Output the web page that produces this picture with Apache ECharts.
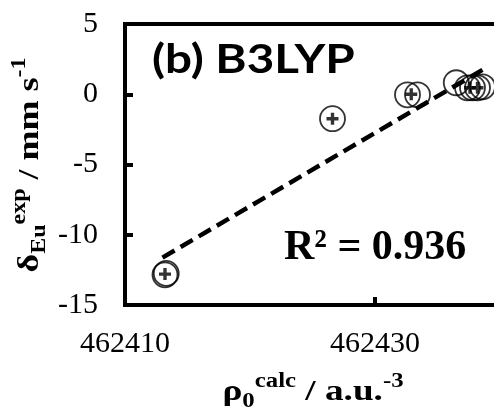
<!DOCTYPE html>
<html>
<head>
<meta charset="utf-8">
<script src="https://cdn.jsdelivr.net/npm/echarts@6/dist/echarts.min.js"></script>
<style>html,body{margin:0;padding:0;background:#fff;}#c{width:494px;height:413px;}</style>
</head>
<body>
<div id="c"></div>
<script>
// Data
const circleX = [462413.2, 462413.3, 462426.6, 462432.6, 462433.4, 462436.5, 462437.4, 462437.8, 462438.2, 462438.6];
const circleY = [-12.85, -12.75, -1.74, -0.04, -0.04, 0.82, 0.46, 0.46, 0.46, 0.53];
const plusX = [462413.2, 462426.6, 462432.9, 462437.6, 462438.2];
const plusY = [-12.8, -1.74, 0.0, 0.46, 0.46];
const fitX = [462413.0, 462438.6];
const fitY = [-11.63, 1.74];
const xTicks = [462410, 462430, 462450];
const yTicks = [-15, -10, -5, 0, 5];
const xTitle = '{m|ρ}{sub|0}{sup|calc}{m| / a.u.}{sup|-3}';
const yTitle = '{m|δ}{sub|Eu}{sup|exp}{m| / mm s}{sup|-1}';
const panelLabel = '(b) B3LYP';
const r2Label = 'R² = 0.936';

const serif = '"Liberation Serif", "Times New Roman", serif';
const zip = (a, b) => a.map((v, i) => [v, b[i]]);
const titleRich = {
  m: {fontFamily: serif, fontWeight: 'bold', fontSize: 30, fill: '#000', color: '#000', lineHeight: 40},
  sub: {fontFamily: serif, fontWeight: 'bold', fontSize: 20, fill: '#000', color: '#000', verticalAlign: 'bottom', lineHeight: 20},
  sup: {fontFamily: serif, fontWeight: 'bold', fontSize: 20, fill: '#000', color: '#000', verticalAlign: 'top', lineHeight: 20}
};

const chart = echarts.init(document.getElementById('c'), null, {renderer: 'canvas'});
chart.setOption({
  animation: false,
  backgroundColor: '#fff',
  grid: {left: 125, top: 24, bottom: 108, right: -131, containLabel: false, outerBoundsMode: 'none',
         show: true, borderColor: '#000', borderWidth: 4, backgroundColor: 'transparent'},
  xAxis: {
    type: 'value', min: xTicks[0], max: xTicks[xTicks.length - 1], interval: xTicks[1] - xTicks[0],
    splitLine: {show: false},
    axisLine: {show: true, onZero: false, lineStyle: {color: '#000', width: 4}},
    axisTick: {show: true, inside: true, length: 8, lineStyle: {color: '#000', width: 4}},
    axisLabel: {margin: 24, color: '#000', fontFamily: serif, fontSize: 30, formatter: v => String(v)}
  },
  yAxis: {
    type: 'value', min: yTicks[0], max: yTicks[yTicks.length - 1], interval: yTicks[1] - yTicks[0],
    splitLine: {show: false},
    axisLine: {show: true, onZero: false, lineStyle: {color: '#000', width: 4}},
    axisTick: {show: true, inside: true, length: 8, lineStyle: {color: '#000', width: 4}},
    axisLabel: {margin: 27, color: '#000', fontFamily: serif, fontSize: 30}
  },
  series: [
    {
      type: 'line', data: zip(fitX, fitY), symbol: 'none', z: 3,
      lineStyle: {color: '#000', width: 4.5, type: [14, 7]}
    },
    {
      type: 'scatter', data: zip(circleX, circleY), symbol: 'circle', symbolSize: 25, z: 4,
      itemStyle: {color: 'rgba(0,0,0,0)', borderColor: '#000', borderWidth: 1.8}
    },
    {
      type: 'scatter', data: zip(plusX, plusY), z: 5,
      symbol: 'path://M3.6,0H6.4V10H3.6Z M0,3.6H10V6.4H0Z', symbolSize: 12,
      itemStyle: {color: '#000'}
    }
  ],
  graphic: [
    {type: 'text', x: 152, y: 40, scaleX: 1.19, style: {text: panelLabel, font: 'bold 40px Lato, "Open Sans", sans-serif', fill: '#000'}},
    {type: 'text', left: 284, top: 227, style: {text: r2Label, font: 'bold 42px "Liberation Serif", serif', fill: '#000'}},
    {type: 'text', x: 313, y: 392, scaleX: 1.24,
     style: {text: xTitle, rich: titleRich, align: 'center', verticalAlign: 'middle', textAlign: 'center', textVerticalAlign: 'middle', fill: '#000'}},
    {type: 'text', x: 30, y: 165, rotation: Math.PI / 2, scaleX: 1.2,
     style: {text: yTitle, rich: titleRich, align: 'center', verticalAlign: 'middle', textAlign: 'center', textVerticalAlign: 'middle', fill: '#000'}}
  ]
});
</script>
</body>
</html>
